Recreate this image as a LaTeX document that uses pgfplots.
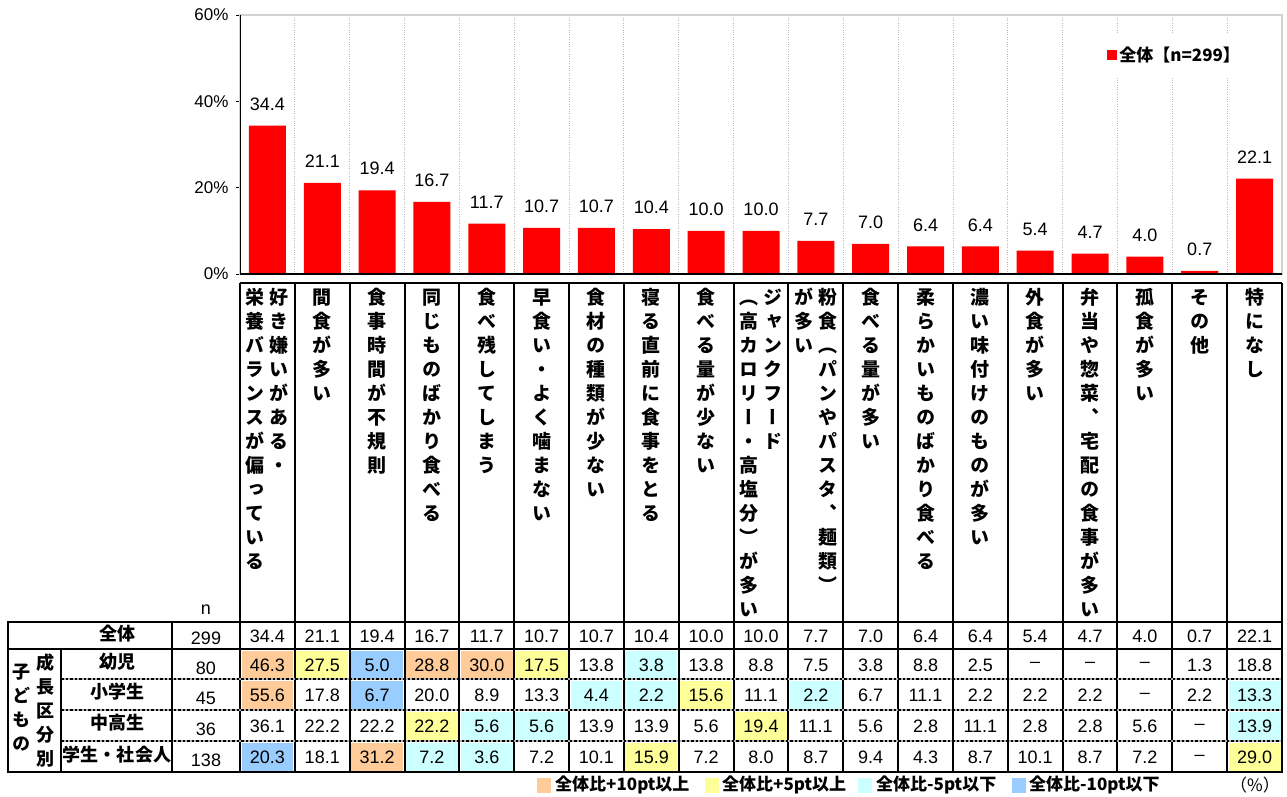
\documentclass[border=0pt]{standalone}
\usepackage{pgfplots}
\pgfplotsset{compat=1.18}
\usepackage{fontspec}
\setmainfont{Liberation Sans}
\newfontfamily\jp{Noto Sans CJK JP}
\newfontfamily\jpv{Noto Sans CJK JP}[RawFeature=+vert]
\definecolor{cO}{HTML}{FFCC99}
\definecolor{cY}{HTML}{FFFF99}
\definecolor{cC}{HTML}{CCFFFF}
\definecolor{cB}{HTML}{99CCFF}
\definecolor{cN}{HTML}{FFFFFF}

\makeatletter
\newcommand\vt[1]{\expandafter\vt@\expandafter{#1}}
\newcommand\vt@[1]{\vbox{\offinterlineskip\@tfor\vch:=#1\do{\hbox to 24bp{\hss\rule[-4.8bp]{0pt}{24bp}\vch\hss}}}}
\makeatother

\def\W{54.842}
\newcommand\tablerow[3]{%
  \foreach \v/\cc [count=\i from 0] in {#3} {
    \pgfmathsetmacro\xa{240+\i*\W}
    \fill[c\cc] ({\xa+1.5},{#1+1.5}) rectangle ({\xa+\W-1.5},{#2-1.5});
    \node[font=\fontsize{18bp}{18bp}\selectfont, inner sep=0pt] at ({\xa+\W/2},{(#1+#2)/2+1}) {\v};
  }}

\begin{document}
\begin{tikzpicture}
\begin{axis}[
  at={(240bp,-274bp)}, anchor=south west,
  scale only axis, width=1042bp, height=259bp,
  xmin=-0.5, xmax=18.5, ymin=0, ymax=60,
  ytick={0,20,40,60}, yticklabels={0\%,20\%,40\%,60\%},
  xtick={0.5,1.5,...,17.5}, xticklabels={},
  ytick pos=left,
  tick align=outside, major tick length=4bp,
  xtick style={draw=none}, ytick style={black, line width=0.8bp},
  xmajorgrids=true,
  major x grid style={gray!55, dotted, line width=0.9bp},
  axis line style={gray!35, line width=1.5bp},
  ticklabel style={font=\fontsize{17bp}{17bp}\selectfont},
  yticklabel style={xshift=-4bp},
  /pgf/number format/assume math mode=true,
  legend style={at={(0.897,0.846)}, anchor=center, draw=none, fill=white,
    font=\jp\bfseries\fontsize{17bp}{20bp}\selectfont, inner xsep=6bp, inner ysep=12bp},
  legend image code/.code={\fill[red] (0bp,-5bp) rectangle (10bp,5bp);},
  nodes near coords={\pgfmathprintnumber[fixed,fixed zerofill,precision=1]{\pgfplotspointmeta}},
  every node near coord/.append style={font=\fontsize{18bp}{18bp}\selectfont, anchor=south, inner sep=0pt, yshift=15bp, black},
]
\addplot[ybar, bar width=0.675, fill=red, draw=none] coordinates {
  (0,34.4) (1,21.1) (2,19.4) (3,16.7) (4,11.7) (5,10.7) (6,10.7) (7,10.4) (8,10.0) (9,10.0)
  (10,7.7) (11,7.0) (12,6.4) (13,6.4) (14,5.4) (15,4.7) (16,4.0) (17,0.7) (18,22.1)};
\legend{全体【n=299】}
\draw[black, line width=1.6bp] (rel axis cs:0,1) -- (rel axis cs:0,0) -- (rel axis cs:1,0);
\end{axis}

\begin{scope}[x=1bp, y=-1bp]
% vertical category labels
\foreach \i/\lab in {1/間食が多い, 2/食事時間が不規則, 3/同じものばかり食べる, 4/食べ残してしまう,
  5/早食い・よく噛まない, 6/食材の種類が少ない, 7/寝る直前に食事をとる, 8/食べる量が少ない,
  11/食べる量が多い, 12/柔らかいものばかり食べる, 13/濃い味付けのものが多い, 14/外食が多い,
  15/弁当や惣菜、宅配の食事が多い, 16/孤食が多い, 17/その他, 18/特になし}
  \node[anchor=north, inner sep=0pt, font=\jpv\bfseries\fontsize{19bp}{24bp}\selectfont]
    at ({240+(\i+0.5)*\W},285) {\vt{\lab}};
\foreach \i/\ra/\la in {0/好き嫌いがある・/栄養バランスが偏っている,
  9/ジャンクフード/（高カロリー・高塩分）が多い, 10/粉食（パンやパスタ、麺類）/が多い} {
  \node[anchor=north, inner sep=0pt, font=\jpv\bfseries\fontsize{19bp}{24bp}\selectfont]
    at ({240+(\i+0.5)*\W+12},285) {\vt{\ra}};
  \node[anchor=north, inner sep=0pt, font=\jpv\bfseries\fontsize{19bp}{24bp}\selectfont]
    at ({240+(\i+0.5)*\W-12},285) {\vt{\la}};
}
% table cells
\tablerow{622}{649}{34.4/N,21.1/N,19.4/N,16.7/N,11.7/N,10.7/N,10.7/N,10.4/N,10.0/N,10.0/N,7.7/N,7.0/N,6.4/N,6.4/N,5.4/N,4.7/N,4.0/N,0.7/N,22.1/N}
\tablerow{649}{679}{46.3/O,27.5/Y,5.0/B,28.8/O,30.0/O,17.5/Y,13.8/N,3.8/C,13.8/N,8.8/N,7.5/N,3.8/N,8.8/N,2.5/N,–/N,–/N,–/N,1.3/N,18.8/N}
\tablerow{679}{710}{55.6/O,17.8/N,6.7/B,20.0/N,8.9/N,13.3/N,4.4/C,2.2/C,15.6/Y,11.1/N,2.2/C,6.7/N,11.1/N,2.2/N,2.2/N,2.2/N,–/N,2.2/N,13.3/C}
\tablerow{710}{741}{36.1/N,22.2/N,22.2/N,22.2/Y,5.6/C,5.6/C,13.9/N,13.9/N,5.6/N,19.4/Y,11.1/N,5.6/N,2.8/N,11.1/N,2.8/N,2.8/N,5.6/N,–/N,13.9/C}
\tablerow{741}{772}{20.3/B,18.1/N,31.2/O,7.2/C,3.6/C,7.2/N,10.1/N,15.9/Y,7.2/N,8.0/N,8.7/N,9.4/N,4.3/N,8.7/N,10.1/N,8.7/N,7.2/N,–/N,29.0/Y}
% row headers
\begin{scope}[every node/.style={font=\jp\bfseries\fontsize{18bp}{20bp}\selectfont, inner sep=0pt}]
\node at (117,634) {全体};
\node at (117,662) {幼児};
\node at (117,692) {小学生};
\node at (117,723) {中高生};
\node at (117,755) {学生・社会人};
\node[font=\jpv\bfseries\fontsize{18bp}{24bp}\selectfont] at (21,707) {\vt{子どもの}};
\node[font=\jpv\bfseries\fontsize{18bp}{24bp}\selectfont] at (45,710) {\vt{成長区分別}};
\end{scope}
\begin{scope}[every node/.style={font=\fontsize{18bp}{18bp}\selectfont, inner sep=0pt}]
\node at (206,610) {n};
\node at (206,638) {299};
\node at (206,668) {80};
\node at (206,698) {45};
\node at (206,729) {36};
\node at (206,760) {138};
\end{scope}
% grid lines of the table
\draw[line width=2bp] (240,283) -- (1282,283);
\foreach \i in {0,...,19} \draw[line width=2bp] ({240+\i*\W},283) -- ({240+\i*\W},772);
\foreach \yy in {679,710,741} {
  \draw[line width=2.6bp, gray!60] (61,\yy) -- (1282,\yy);
  \draw[line width=2.6bp, dash pattern=on 2.5bp off 2bp] (61,\yy) -- (1282,\yy);
}
\draw[line width=2bp] (8,649) -- (1282,649);
\draw[line width=2bp] (61,649) -- (61,772);
\draw[line width=2bp] (172,622) -- (172,772);
\draw[line width=2.4bp] (8,622) rectangle (1282,772);
% colour key
\begin{scope}[every node/.style={font=\jp\bfseries\fontsize{17bp}{20bp}\selectfont, inner sep=0pt, anchor=west}]
\fill[cO] (537,778) rectangle (551,793); \node at (555,785) {全体比+10pt以上};
\fill[cY] (705,778) rectangle (719,793); \node at (722,785) {全体比+5pt以上};
\fill[cC] (858,778) rectangle (872,793); \node at (876,785) {全体比-5pt以下};
\fill[cB] (1012,778) rectangle (1026,793); \node at (1029,785) {全体比-10pt以下};
\node[font=\jp\fontsize{17bp}{20bp}\selectfont] at (1230,785) {（\%）};
\end{scope}
\end{scope}
\pgfresetboundingbox
\path[x=1bp, y=-1bp] (0,0) rectangle (1287,797);
\end{tikzpicture}
\end{document}
